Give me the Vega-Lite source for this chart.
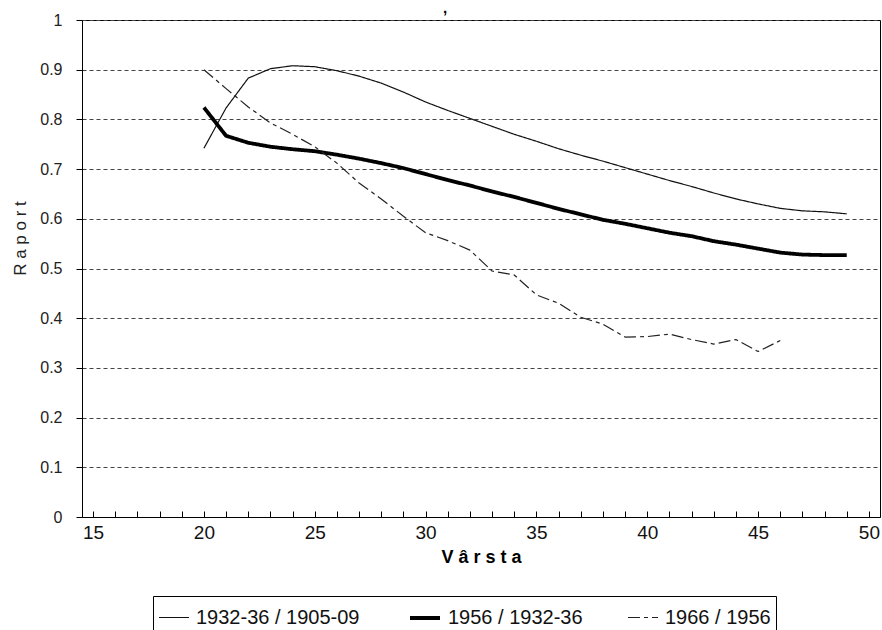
{
  "$schema": "https://vega.github.io/schema/vega-lite/v6.json",
  "width": 798,
  "height": 497,
  "autosize": {"type": "none"},
  "padding": {"left": 82, "top": 20, "right": 2, "bottom": 113},
  "background": "white",
  "title": {"text": ",", "fontSize": 15, "fontWeight": "bold", "dx": -36, "dy": 10, "offset": 6, "anchor": "middle", "color": "#000", "font": "Liberation Sans"},
  "config": {
    "view": {"stroke": "#000", "strokeWidth": 1},
    "font": "Liberation Sans"
  },
  "data": {
    "values": [
      {"series": "1932-36 / 1905-09", "age": 20, "value": 0.742},
      {"series": "1932-36 / 1905-09", "age": 21, "value": 0.823},
      {"series": "1932-36 / 1905-09", "age": 22, "value": 0.883},
      {"series": "1932-36 / 1905-09", "age": 23, "value": 0.902},
      {"series": "1932-36 / 1905-09", "age": 24, "value": 0.908},
      {"series": "1932-36 / 1905-09", "age": 25, "value": 0.906},
      {"series": "1932-36 / 1905-09", "age": 26, "value": 0.898},
      {"series": "1932-36 / 1905-09", "age": 27, "value": 0.887},
      {"series": "1932-36 / 1905-09", "age": 28, "value": 0.873},
      {"series": "1932-36 / 1905-09", "age": 29, "value": 0.855},
      {"series": "1932-36 / 1905-09", "age": 30, "value": 0.835},
      {"series": "1932-36 / 1905-09", "age": 31, "value": 0.818},
      {"series": "1932-36 / 1905-09", "age": 32, "value": 0.802},
      {"series": "1932-36 / 1905-09", "age": 33, "value": 0.786},
      {"series": "1932-36 / 1905-09", "age": 34, "value": 0.770},
      {"series": "1932-36 / 1905-09", "age": 35, "value": 0.756},
      {"series": "1932-36 / 1905-09", "age": 36, "value": 0.741},
      {"series": "1932-36 / 1905-09", "age": 37, "value": 0.728},
      {"series": "1932-36 / 1905-09", "age": 38, "value": 0.716},
      {"series": "1932-36 / 1905-09", "age": 39, "value": 0.703},
      {"series": "1932-36 / 1905-09", "age": 40, "value": 0.690},
      {"series": "1932-36 / 1905-09", "age": 41, "value": 0.677},
      {"series": "1932-36 / 1905-09", "age": 42, "value": 0.665},
      {"series": "1932-36 / 1905-09", "age": 43, "value": 0.652},
      {"series": "1932-36 / 1905-09", "age": 44, "value": 0.640},
      {"series": "1932-36 / 1905-09", "age": 45, "value": 0.630},
      {"series": "1932-36 / 1905-09", "age": 46, "value": 0.621},
      {"series": "1932-36 / 1905-09", "age": 47, "value": 0.616},
      {"series": "1932-36 / 1905-09", "age": 48, "value": 0.614},
      {"series": "1932-36 / 1905-09", "age": 49, "value": 0.610},
      {"series": "1956 / 1932-36", "age": 20, "value": 0.824},
      {"series": "1956 / 1932-36", "age": 21, "value": 0.767},
      {"series": "1956 / 1932-36", "age": 22, "value": 0.753},
      {"series": "1956 / 1932-36", "age": 23, "value": 0.745},
      {"series": "1956 / 1932-36", "age": 24, "value": 0.740},
      {"series": "1956 / 1932-36", "age": 25, "value": 0.736},
      {"series": "1956 / 1932-36", "age": 26, "value": 0.729},
      {"series": "1956 / 1932-36", "age": 27, "value": 0.721},
      {"series": "1956 / 1932-36", "age": 28, "value": 0.712},
      {"series": "1956 / 1932-36", "age": 29, "value": 0.702},
      {"series": "1956 / 1932-36", "age": 30, "value": 0.690},
      {"series": "1956 / 1932-36", "age": 31, "value": 0.678},
      {"series": "1956 / 1932-36", "age": 32, "value": 0.667},
      {"series": "1956 / 1932-36", "age": 33, "value": 0.655},
      {"series": "1956 / 1932-36", "age": 34, "value": 0.644},
      {"series": "1956 / 1932-36", "age": 35, "value": 0.632},
      {"series": "1956 / 1932-36", "age": 36, "value": 0.620},
      {"series": "1956 / 1932-36", "age": 37, "value": 0.609},
      {"series": "1956 / 1932-36", "age": 38, "value": 0.598},
      {"series": "1956 / 1932-36", "age": 39, "value": 0.590},
      {"series": "1956 / 1932-36", "age": 40, "value": 0.581},
      {"series": "1956 / 1932-36", "age": 41, "value": 0.572},
      {"series": "1956 / 1932-36", "age": 42, "value": 0.565},
      {"series": "1956 / 1932-36", "age": 43, "value": 0.555},
      {"series": "1956 / 1932-36", "age": 44, "value": 0.548},
      {"series": "1956 / 1932-36", "age": 45, "value": 0.540},
      {"series": "1956 / 1932-36", "age": 46, "value": 0.532},
      {"series": "1956 / 1932-36", "age": 47, "value": 0.528},
      {"series": "1956 / 1932-36", "age": 48, "value": 0.527},
      {"series": "1956 / 1932-36", "age": 49, "value": 0.527},
      {"series": "1966 / 1956", "age": 20, "value": 0.900},
      {"series": "1966 / 1956", "age": 21, "value": 0.862},
      {"series": "1966 / 1956", "age": 22, "value": 0.825},
      {"series": "1966 / 1956", "age": 23, "value": 0.793},
      {"series": "1966 / 1956", "age": 24, "value": 0.770},
      {"series": "1966 / 1956", "age": 25, "value": 0.745},
      {"series": "1966 / 1956", "age": 26, "value": 0.712},
      {"series": "1966 / 1956", "age": 27, "value": 0.672},
      {"series": "1966 / 1956", "age": 28, "value": 0.640},
      {"series": "1966 / 1956", "age": 29, "value": 0.605},
      {"series": "1966 / 1956", "age": 30, "value": 0.572},
      {"series": "1966 / 1956", "age": 31, "value": 0.556},
      {"series": "1966 / 1956", "age": 32, "value": 0.537},
      {"series": "1966 / 1956", "age": 33, "value": 0.495},
      {"series": "1966 / 1956", "age": 34, "value": 0.487},
      {"series": "1966 / 1956", "age": 35, "value": 0.447},
      {"series": "1966 / 1956", "age": 36, "value": 0.430},
      {"series": "1966 / 1956", "age": 37, "value": 0.402},
      {"series": "1966 / 1956", "age": 38, "value": 0.388},
      {"series": "1966 / 1956", "age": 39, "value": 0.362},
      {"series": "1966 / 1956", "age": 40, "value": 0.363},
      {"series": "1966 / 1956", "age": 41, "value": 0.368},
      {"series": "1966 / 1956", "age": 42, "value": 0.357},
      {"series": "1966 / 1956", "age": 43, "value": 0.348},
      {"series": "1966 / 1956", "age": 44, "value": 0.357},
      {"series": "1966 / 1956", "age": 45, "value": 0.333},
      {"series": "1966 / 1956", "age": 46, "value": 0.355}
    ]
  },
  "mark": {"type": "line", "strokeCap": "butt", "strokeJoin": "round"},
  "encoding": {
    "x": {
      "field": "age",
      "type": "quantitative",
      "scale": {"domain": [14.5, 50.5], "nice": false, "zero": false},
      "axis": {
        "title": "V â r s t a",
        "values": [15,16,17,18,19,20,21,22,23,24,25,26,27,28,29,30,31,32,33,34,35,36,37,38,39,40,41,42,43,44,45,46,47,48,49,50],
        "labelExpr": "datum.value % 5 === 0 ? datum.label : ''",
        "grid": false,
        "tickSize": -6,
        "tickColor": "#000",
        "tickWidth": 1,
        "domainColor": "#000",
        "domainWidth": 1,
        "labelFont": "Liberation Sans Narrow, Arial Narrow, Liberation Sans",
        "labelFontSize": 19,
        "labelColor": "#111",
        "labelPadding": 12,
        "labelOverlap": false,
        "labelFlush": false,
        "titleFont": "Liberation Sans",
        "titleFontSize": 18,
        "titleFontWeight": "bold",
        "titleColor": "#000",
        "titlePadding": 6
      }
    },
    "y": {
      "field": "value",
      "type": "quantitative",
      "scale": {"domain": [0, 1], "nice": false, "zero": true},
      "axis": {
        "title": "R a p o r t",
        "values": [0, 0.1, 0.2, 0.3, 0.4, 0.5, 0.6, 0.7, 0.8, 0.9, 1],
        "format": "~g",
        "grid": true,
        "gridDash": [4, 3],
        "gridColor": "#444",
        "gridWidth": 1.2,
        "tickSize": 6,
        "tickColor": "#000",
        "domainColor": "#000",
        "labelFont": "Liberation Sans Narrow, Arial Narrow, Liberation Sans",
        "labelFontSize": 16,
        "labelColor": "#222",
        "labelPadding": 14,
        "titleFont": "Liberation Sans",
        "titleFontSize": 17,
        "titleFontWeight": "normal",
        "titleColor": "#222",
        "titleAngle": 270,
        "titleAlign": "center",
        "titleBaseline": "alphabetic",
        "titleX": -57,
        "titleY": 218
      }
    },
    "color": {
      "field": "series",
      "type": "nominal",
      "scale": {"domain": ["1932-36 / 1905-09", "1956 / 1932-36", "1966 / 1956"], "range": ["#111111", "#000000", "#222222"]},
      "legend": {
        "title": null,
        "orient": "none",
        "legendX": 71,
        "legendY": 576,
        "direction": "horizontal",
        "symbolType": "stroke",
        "symbolSize": 900,
        "labelFont": "Liberation Sans",
        "labelFontSize": 20,
        "labelColor": "#111",
        "labelLimit": 400,
        "labelOffset": 6,
        "columnPadding": 42,
        "strokeColor": "#000",
        "fillColor": "#fff",
        "padding": 5
      }
    },
    "strokeWidth": {
      "field": "series",
      "type": "nominal",
      "scale": {"type": "ordinal", "domain": ["1932-36 / 1905-09", "1956 / 1932-36", "1966 / 1956"], "range": [1.2, 3.8, 1.2]}
    },
    "strokeDash": {
      "field": "series",
      "type": "nominal",
      "scale": {"domain": ["1932-36 / 1905-09", "1956 / 1932-36", "1966 / 1956"], "range": [[1, 0], [1, 0], [12, 4, 4, 4]]}
    }
  }
}
